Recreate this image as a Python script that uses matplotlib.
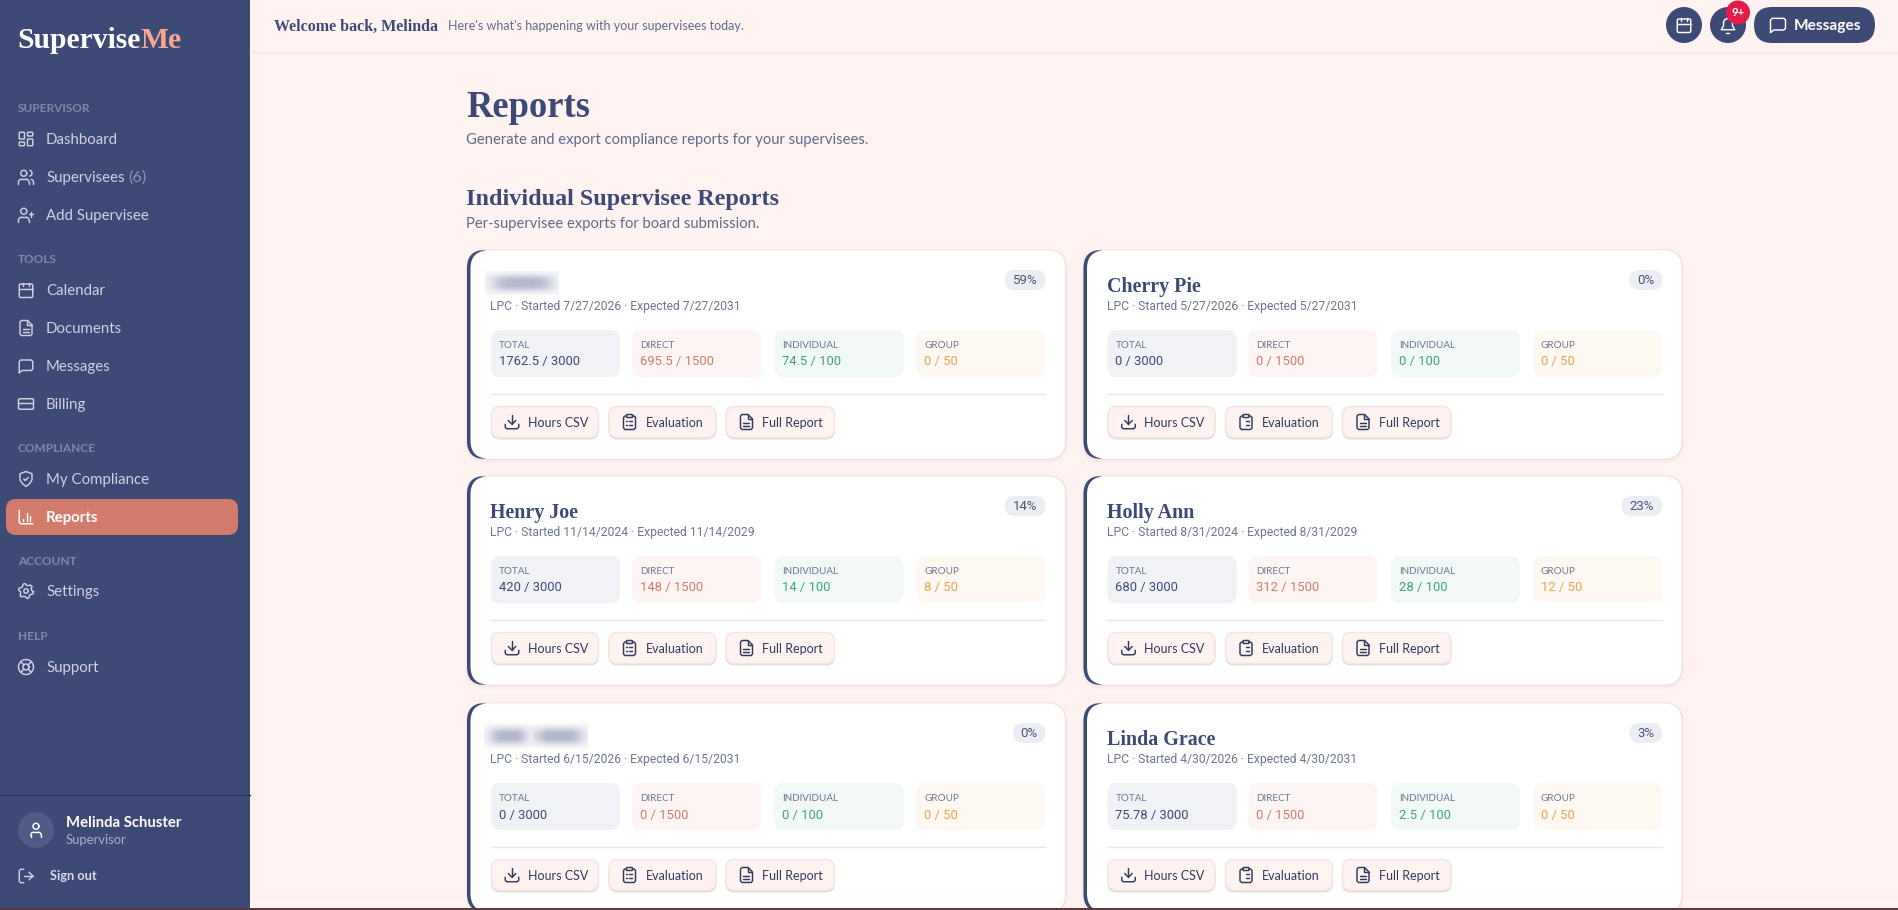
# Pantalla de reportes "SuperviseMe" dibujada con matplotlib, en coordenadas de pixel
import numpy as np
import matplotlib
matplotlib.use("Agg")
import matplotlib.pyplot as plt
from matplotlib.patches import FancyBboxPatch, Circle

SANS = "Lato"
DIGITS = "Roboto"
SERIF = "Liberation Serif"

NAVY = "#3d4a76"
BG = "#fef3f0"
CORAL = "#d27b6a"
PEACH = "#f8a592"

# Datos de la barra lateral
nav_sections = ["SUPERVISOR", "TOOLS", "COMPLIANCE", "ACCOUNT", "HELP"]
nav_section_y = [112, 263, 452, 565, 640]
nav_items = ["Dashboard", "Supervisees", "Add Supervisee", "Calendar", "Documents", "Messages", "Billing", "My Compliance", "Reports", "Settings", "Support"]
nav_icons = ["dash", "users", "userplus", "cal", "file", "msg", "card", "shield", "bars", "gear", "buoy"]
nav_y = [144, 182, 220, 295, 333, 371, 409, 484, 522, 596, 672]

# Datos de las tarjetas
names = ["", "Cherry Pie", "Henry Joe", "Holly Ann", "", "Linda Grace"]
credentials = ["LPC"] * 6
started = ["7/27/2026", "5/27/2026", "11/14/2024", "8/31/2024", "6/15/2026", "4/30/2026"]
expected = ["7/27/2031", "5/27/2031", "11/14/2029", "8/31/2029", "6/15/2031", "4/30/2031"]
percent = [59, 0, 14, 23, 0, 3]
total_hours = ["1762.5", "0", "420", "680", "0", "75.78"]
direct_hours = ["695.5", "0", "148", "312", "0", "0"]
individual_hours = ["74.5", "0", "14", "28", "0", "2.5"]
group_hours = ["0", "0", "8", "12", "0", "0"]
stat_labels = ["TOTAL", "DIRECT", "INDIVIDUAL", "GROUP"]
stat_goals = [3000, 1500, 100, 50]
stat_bg = ["#f1f2f6", "#fdf5f3", "#f2f8f6", "#fef8f2"]
stat_fg = [NAVY, "#d27b6a", "#3fa37f", "#eda24f"]
buttons = ["Hours CSV", "Evaluation", "Full Report"]
button_icons = ["download", "clip", "file"]

fig = plt.figure(figsize=(18.98, 9.10), dpi=100, facecolor=BG)
ax = fig.add_axes([0, 0, 1, 1])
ax.set_axis_off()
ax.set_xlim(0, 1898)
ax.set_ylim(910, 0)


def text(x, y, s, size, color, weight="normal", family=SANS, ha="left", alpha=1.0, zorder=6):
    return ax.text(x, y, s, fontsize=size, color=color, fontweight=weight, family=family, ha=ha, va="baseline", alpha=alpha, zorder=zorder)


def rbox(x0, y0, x1, y1, r, fc, ec="none", lw=0, alpha=1.0, zorder=2):
    p = FancyBboxPatch((x0, y0), x1 - x0, y1 - y0, boxstyle=f"round,pad=0,rounding_size={r}", fc=fc, ec=ec, lw=lw, alpha=alpha, zorder=zorder)
    ax.add_patch(p)
    return p


# Iconos en una caja de 24x24, al estilo lucide
def draw_icon(name, cx, cy, size, color, lw=1.05):
    k = size / 24

    def X(x):
        return cx + (np.asarray(x, dtype=float) - 12) * k

    def Y(y):
        return cy + (np.asarray(y, dtype=float) - 12) * k

    def ln(*pts):
        a = np.array(pts, dtype=float)
        ax.plot(X(a[:, 0]), Y(a[:, 1]), color=color, lw=lw, solid_capstyle="round", solid_joinstyle="round", zorder=7)

    def arc(x, y, r, a0, a1):
        t = np.radians(np.linspace(a0, a1, 30))
        ax.plot(X(x + r * np.cos(t)), Y(y + r * np.sin(t)), color=color, lw=lw, solid_capstyle="round", zorder=7)

    def box(x, y, w, h, r=2):
        rbox(X(x), Y(y), X(x + w), Y(y + h), r * k, "none", ec=color, lw=lw, zorder=7)

    def person(x0, x1):
        # cuerpo de la figura de persona
        ln((x0, 21), (x0, 19)); arc(x0 + 4, 19, 4, 180, 270); ln((x0 + 4, 15), (x1 - 4, 15))
        arc(x1 - 4, 19, 4, 270, 360); ln((x1, 19), (x1, 21))

    if name == "dash":
        box(3, 3, 7, 9, 1); box(14, 3, 7, 5, 1); box(14, 12, 7, 9, 1); box(3, 16, 7, 5, 1)
    elif name == "users":
        arc(9, 7, 4, 0, 360); person(2, 16)
        arc(16, 7, 4, -75, 75); ln((19, 15.2), (20, 15.6)); arc(18, 19, 4, -45, 0); ln((22, 19), (22, 21))
    elif name == "userplus":
        arc(9, 7, 4, 0, 360); person(2, 16)
        ln((19, 8), (19, 14)); ln((16, 11), (22, 11))
    elif name == "cal":
        box(3, 4, 18, 18); ln((16, 2), (16, 6)); ln((8, 2), (8, 6)); ln((3, 10), (21, 10))
    elif name == "calgrid":
        box(3, 4, 18, 18); ln((16, 2), (16, 6)); ln((8, 2), (8, 6)); ln((3, 10), (21, 10))
        for gy in (14, 18):
            for gx in (8, 12, 16):
                ln((gx, gy), (gx + 0.4, gy))
    elif name == "file":
        ln((14, 2), (6, 2), (4, 4), (4, 20), (6, 22), (18, 22), (20, 20), (20, 8), (14, 2))
        ln((14, 2), (14, 8), (20, 8)); ln((8, 13), (16, 13)); ln((8, 17), (16, 17))
    elif name == "msg":
        ln((3, 21), (3, 6), (5, 4), (19, 4), (21, 6), (21, 16), (19, 18), (7, 18), (3, 21))
    elif name == "card":
        box(2, 5, 20, 14); ln((2, 10), (22, 10))
    elif name == "shield":
        ln((12, 2), (20, 5), (20, 13), (17, 18), (12, 22), (7, 18), (4, 13), (4, 5), (12, 2))
        ln((9, 12), (11, 14), (15, 10))
    elif name == "bars":
        ln((3, 3), (3, 19), (5, 21), (21, 21)); ln((8, 17), (8, 14)); ln((13, 17), (13, 6)); ln((18, 17), (18, 10))
    elif name == "gear":
        t = np.radians(np.arange(0, 360.1, 15))
        r = np.where(np.arange(len(t)) % 4 < 2, 10, 7.6)
        ax.plot(X(12 + r * np.cos(t + 0.13)), Y(12 + r * np.sin(t + 0.13)), color=color, lw=lw, zorder=7)
        arc(12, 12, 3, 0, 360)
    elif name == "buoy":
        arc(12, 12, 10, 0, 360); arc(12, 12, 4, 0, 360)
        ln((4.9, 4.9), (9.2, 9.2)); ln((14.8, 14.8), (19.1, 19.1)); ln((14.8, 9.2), (19.1, 4.9)); ln((4.9, 19.1), (9.2, 14.8))
    elif name == "user":
        arc(12, 7, 4, 0, 360); person(5, 19)
    elif name == "logout":
        ln((9, 3), (5, 3), (3, 5), (3, 19), (5, 21), (9, 21)); ln((10, 12), (21, 12)); ln((16, 7), (21, 12), (16, 17))
    elif name == "bell":
        arc(12, 8, 6, 180, 360); ln((6, 8), (6, 12), (3, 17), (21, 17), (18, 12), (18, 8)); ln((10, 21), (14, 21))
    elif name == "download":
        ln((12, 3), (12, 15)); ln((7, 10), (12, 15), (17, 10)); ln((3, 15), (3, 19), (5, 21), (19, 21), (21, 19), (21, 15))
    elif name == "clip":
        box(8, 2, 8, 4, 1); ln((8, 4), (6, 4), (4, 6), (4, 20), (6, 22), (18, 22), (20, 20), (20, 6), (18, 4), (16, 4))
        for gy in (11, 16):
            ln((8, gy), (8.4, gy)); ln((12, gy), (16, gy))


def blurred_name(x0, y0, x1, y1, words):
    # nombre difuminado: caja clara con manchas borrosas, una por palabra
    rbox(x0, y0, x1, y1, 1, "#f7f7fa", zorder=3)
    xs = np.linspace(x0, x1, 200)
    ys = np.linspace(y0, y1, 40)
    mx = np.zeros_like(xs)
    for a, b in words:
        mx = np.maximum(mx, np.exp(-(np.abs(xs - (a + b) / 2) / ((b - a) * 0.52)) ** 4))
    my = np.exp(-(np.abs(ys - (y0 + y1) / 2) / ((y1 - y0) * 0.34)) ** 3)
    rgba = np.zeros((40, 200, 4))
    rgba[..., :3] = matplotlib.colors.to_rgb("#b4b8cc")
    rgba[..., 3] = np.outer(my, mx)
    ax.imshow(rgba, extent=(x0, x1, y1, y0), aspect="auto", zorder=4, interpolation="bilinear")


# ----- Fondo y barra lateral -----
ax.add_patch(plt.Rectangle((0, 0), 250, 910, fc=NAVY, ec="none", zorder=1))
ax.plot([250, 1898], [52, 52], color="#efe7e6", lw=1, zorder=1)
ax.plot([0, 250], [795, 795], color="#2f3a60", lw=1, zorder=2)

logo = text(17, 48, "Supervise", 21.3, "white", "bold", SERIF)
fig.canvas.draw()
text(logo.get_window_extent().x1, 48, "Me", 21.3, PEACH, "bold", SERIF)

for s, y in zip(nav_sections, nav_section_y):
    text(18, y, s, 8.5, "#7f88a8", "bold")

rbox(6, 499, 238, 535, 10, CORAL, zorder=2)
for s, ic, y in zip(nav_items, nav_icons, nav_y):
    active = s == "Reports"
    c = "white" if active else "#cdd1e0"
    t = text(46, y, s, 10.8, c, "bold" if active else "normal")
    draw_icon(ic, 26, y - 5, 18, c)
    if s == "Supervisees":
        fig.canvas.draw()
        text(t.get_window_extent().x1 + 4, y, "(6)", 11.8, "#8a93b2")

ax.add_patch(Circle((36, 830), 18, fc="#4f5b85", ec="none", zorder=2))
draw_icon("user", 36, 830, 18, "white")
text(66, 827, "Melinda Schuster", 10.7, "white", "bold")
text(66, 844, "Supervisor", 9.4, "#a9afc8")
draw_icon("logout", 26, 876, 18, "#cdd1e0")
text(50, 880, "Sign out", 9.2, "#d8dbe6", "bold")

# ----- Encabezado -----
text(274, 31, "Welcome back, Melinda", 11.5, NAVY, "bold", SERIF)
text(448, 30, "Here's what's happening with your supervisees today.", 9, "#5f6a8c")

ax.add_patch(Circle((1684, 25), 18, fc=NAVY, ec="none", zorder=2))
draw_icon("calgrid", 1684, 25, 18, "white")
ax.add_patch(Circle((1728, 25), 18, fc=NAVY, ec="none", zorder=2))
draw_icon("bell", 1728, 26, 18, "white")
ax.add_patch(Circle((1738, 12.5), 12, fc="#e11d48", ec="none", zorder=8))
text(1738, 16.5, "9+", 8.2, "white", "bold", ha="center", zorder=9)
rbox(1754, 7, 1875, 43, 18, NAVY)
draw_icon("msg", 1778, 25, 20, "white")
text(1794, 30, "Messages", 11.2, "white", "bold")

# ----- Titulos -----
text(466, 117, "Reports", 26.3, NAVY, "bold", SERIF)
text(466, 144, "Generate and export compliance reports for your supervisees.", 10.65, "#5f6a8c")
text(466, 205, "Individual Supervisee Reports", 17.4, NAVY, "bold", SERIF)
text(466, 228, "Per-supervisee exports for board submission.", 10.65, "#5f6a8c")

# ----- Tarjetas -----
card_x = [467, 1083.5]
card_y = [250, 476, 703]
card_w = 598.5
card_h = 209
stat_x = [24, 165, 307.5, 449.5]
stat_w = 129
button_x = [24, 141.5, 258.5]
button_w = [108, 108, 109.5]
blur_boxes = {0: (18, 92, [(26, 85)]), 4: (17, 121, [(23, 60), (68, 116)])}

hours = [total_hours, direct_hours, individual_hours, group_hours]
for i in range(6):
    x0 = card_x[i % 2]
    y0 = card_y[i // 2]
    x1 = x0 + card_w
    y1 = y0 + card_h
    for grow, a in zip((4, 2.5, 1), (0.05, 0.07, 0.1)):
        rbox(x0 - grow / 2, y0, x1 + grow / 2, y1 + grow, 19, "#c9b8b6", alpha=a, zorder=2)
    rbox(x0 + 1, y0, x1, y1, 18, "white", ec="#f1e3e1", lw=1, zorder=3)
    rbox(x0, y0, x0 + 30, y1, 18, NAVY, zorder=3)
    rbox(x0 + 3.5, y0 + 0.5, x1 - 0.5, y1 - 0.5, 18, "white", zorder=3)

    if names[i]:
        text(x0 + 23.5, y0 + 42, names[i], 14.4, NAVY, "bold", SERIF)
    else:
        bl, br, words = blur_boxes[i]
        blurred_name(x0 + bl, y0 + 21, x0 + br, y0 + 45, [(x0 + a, x0 + b) for a, b in words])
    text(x0 + 23.5, y0 + 60, f"{credentials[i]} · Started {started[i]} · Expected {expected[i]}", 8.7, "#6d7692", family=DIGITS)

    w = 40.5 if percent[i] >= 10 else 32.5
    rbox(x1 - 20 - w, y0 + 20, x1 - 20, y0 + 40, 10, "#eceef3", zorder=4)
    text(x1 - 20 - w / 2, y0 + 34, f"{percent[i]}%", 9.5, "#4a5578", ha="center", family=DIGITS)

    for j in range(4):
        bx = x0 + stat_x[j]
        rbox(bx, y0 + 80, bx + stat_w, y0 + 127, 9, stat_bg[j], zorder=4)
        text(bx + 8, y0 + 98, stat_labels[j], 7.1, "#6d7692")
        text(bx + 8, y0 + 115.5, f"{hours[j][i]} / {stat_goals[j]}", 9.4, stat_fg[j], family=DIGITS)

    ax.plot([x0 + 24, x1 - 20], [y0 + 143.5, y0 + 143.5], color="#e9e7ea", lw=1, zorder=4)

    for j in range(3):
        bx = x0 + button_x[j]
        bw = button_w[j]
        rbox(bx, y0 + 157.5, bx + bw, y0 + 189.5, 9, "#d6cfce", alpha=0.7, zorder=4)
        rbox(bx + 0.5, y0 + 156.5, bx + bw - 0.5, y0 + 187.5, 8.5, "#fef3f0", ec="#f2e5e2", lw=1, zorder=4)
        draw_icon(button_icons[j], bx + 21, y0 + 172, 18, "#2f3a5f")
        text(bx + 37, y0 + 177, buttons[j], 9, "#2f3a5f")

# linea oscura al borde inferior
ax.add_patch(plt.Rectangle((0, 908), 1898, 2, fc="#5a3a40", ec="none", zorder=10))

ax.set_xlim(0, 1898)
ax.set_ylim(910, 0)
fig.savefig("out.png", dpi=100, facecolor=BG)
